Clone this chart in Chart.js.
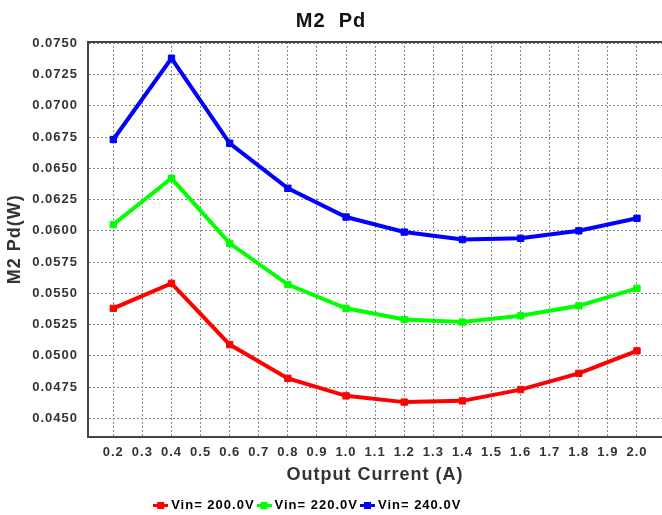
<!DOCTYPE html>
<html>
<head>
<meta charset="utf-8">
<title>M2 Pd</title>
<script src="https://cdn.jsdelivr.net/npm/chart.js@4.4.0/dist/chart.umd.min.js"></script>
<style>
    html, body { margin: 0; padding: 0; background: #fff; }
</style>
</head>
<body>
<canvas id="pdChart" width="662" height="515"></canvas>
<script>
// ── Data ─────────────────────────────────────────────────────

const currents = [0.2, 0.4, 0.6, 0.8, 1.0, 1.2, 1.4, 1.6, 1.8, 2.0];
const vin200   = [0.0538, 0.0558, 0.0509, 0.0482, 0.0468, 0.0463, 0.0464, 0.0473, 0.0486, 0.0504];
const vin220   = [0.0605, 0.0642, 0.0590, 0.0557, 0.0538, 0.0529, 0.0527, 0.0532, 0.0540, 0.0554];
const vin240   = [0.0673, 0.0738, 0.0670, 0.0634, 0.0611, 0.0599, 0.0593, 0.0594, 0.0600, 0.0610];

const seriesNames  = ['Vin= 200.0V', 'Vin= 220.0V', 'Vin= 240.0V'];
const seriesColors = ['#ff0000', '#00ff00', '#0000ff'];

const xTicks = [0.2, 0.3, 0.4, 0.5, 0.6, 0.7, 0.8, 0.9, 1.0, 1.1, 1.2, 1.3, 1.4, 1.5, 1.6, 1.7, 1.8, 1.9, 2.0];
const yTicks = [0.0450, 0.0475, 0.0500, 0.0525, 0.0550, 0.0575, 0.0600, 0.0625, 0.0650, 0.0675, 0.0700, 0.0725, 0.0750];

// ── Helpers ──────────────────────────────────────────────────

const FONT = "'Liberation Sans', Arial, sans-serif";

// small line + square marker used in the legend
function legendMarker(color) {
    const c = document.createElement('canvas');
    c.width = 15; c.height = 8;
    const g = c.getContext('2d');
    g.fillStyle = color;
    g.fillRect(0, 3, 15, 3);
    g.fillRect(4, 1, 7, 7);
    return c;
}

// the source chart has slightly spaced-out lettering
const letterSpacing = {
    id: 'letterSpacing',
    beforeLayout(chart) { chart.ctx.letterSpacing = '1px'; },
    beforeDraw(chart)   { chart.ctx.letterSpacing = '1px'; },
};

// legend sits a little left of the canvas centre in the source
const legendShift = {
    id: 'legendShift',
    afterLayout(chart) { chart.legend.right -= 44; },
};

// closes the frame along the top of the plot area
const frameTop = {
    id: 'frameTop',
    beforeDatasetsDraw(chart) {
        const { ctx, chartArea: a } = chart;
        ctx.save();
        ctx.strokeStyle = '#444';
        ctx.lineWidth = 2;
        ctx.beginPath();
        ctx.moveTo(a.left, a.top);
        ctx.lineTo(a.right, a.top);
        ctx.stroke();
        ctx.restore();
    },
};

// ── Chart ────────────────────────────────────────────────────

const datasets = [vin200, vin220, vin240].map((values, i) => ({
    label: seriesNames[i],
    data: values.map((v, j) => ({ x: currents[j], y: v })),
    borderColor: seriesColors[i],
    backgroundColor: seriesColors[i],
    borderWidth: 4,
    pointStyle: 'rect',
    pointRadius: 4.5,
    pointBorderWidth: 1,
    tension: 0,
}));

Chart.defaults.color = '#333';
Chart.defaults.font.family = FONT;
Chart.defaults.font.weight = 'bold';

new Chart(document.getElementById('pdChart'), {
    type: 'line',
    data: { datasets },
    plugins: [letterSpacing, legendShift, frameTop],
    options: {
        responsive: false,
        animation: false,
        layout: {
            autoPadding: false,
            padding: { top: 0, right: 0, bottom: -6.5, left: 0 },
        },
        plugins: {
            title: {
                display: true,
                text: 'M2  Pd',
                color: '#111',
                font: { size: 20, weight: 'bold' },
                padding: { top: 9, bottom: 9 },
            },
            legend: {
                position: 'bottom',
                labels: {
                    usePointStyle: true,
                    pointStyleWidth: 8,
                    padding: 5.5,
                    color: '#333',
                    font: { size: 13, weight: 'bold' },
                    generateLabels: chart => chart.data.datasets.map((ds, i) => ({
                        text: ds.label,
                        pointStyle: legendMarker(seriesColors[i]),
                        fillStyle: seriesColors[i],
                        strokeStyle: seriesColors[i],
                        lineWidth: 0,
                        datasetIndex: i,
                        hidden: false,
                    })),
                },
            },
            tooltip: { enabled: false },
        },
        scales: {
            x: {
                type: 'linear',
                min: 0.113,
                max: 2.086,
                afterBuildTicks: scale => { scale.ticks = xTicks.map(v => ({ value: v })); },
                afterFit: scale => {
                    scale.height = 56.5;
                    scale.paddingLeft = 0;
                    scale.paddingRight = 0;
                },
                grid: { color: '#8a8a8a', lineWidth: 1, drawTicks: false },
                border: { display: true, color: '#444', width: 2, dash: [2, 2] },
                ticks: {
                    padding: 8,
                    maxRotation: 0,
                    autoSkip: false,
                    font: { size: 13, weight: 'bold' },
                    callback: v => Number(v).toFixed(1),
                },
                title: {
                    display: true,
                    text: 'Output Current (A)',
                    color: '#333',
                    font: { size: 18, weight: 'bold' },
                    padding: { top: 0, bottom: 7.5 },
                },
            },
            y: {
                type: 'linear',
                min: 0.04355,
                max: 0.0751,
                afterBuildTicks: scale => { scale.ticks = yTicks.map(v => ({ value: v })); },
                afterFit: scale => { scale.width = 88; },
                grid: { color: '#8a8a8a', lineWidth: 1, drawTicks: false },
                border: { display: true, color: '#444', width: 2, dash: [2, 2] },
                ticks: {
                    padding: 10,
                    autoSkip: false,
                    font: { size: 13, weight: 'bold' },
                    callback: v => Number(v).toFixed(4),
                },
                title: {
                    display: true,
                    text: 'M2 Pd(W)',
                    color: '#333',
                    font: { size: 18, weight: 'bold' },
                    padding: { top: 4, bottom: 0 },
                },
            },
        },
    },
});
</script>
</body>
</html>
